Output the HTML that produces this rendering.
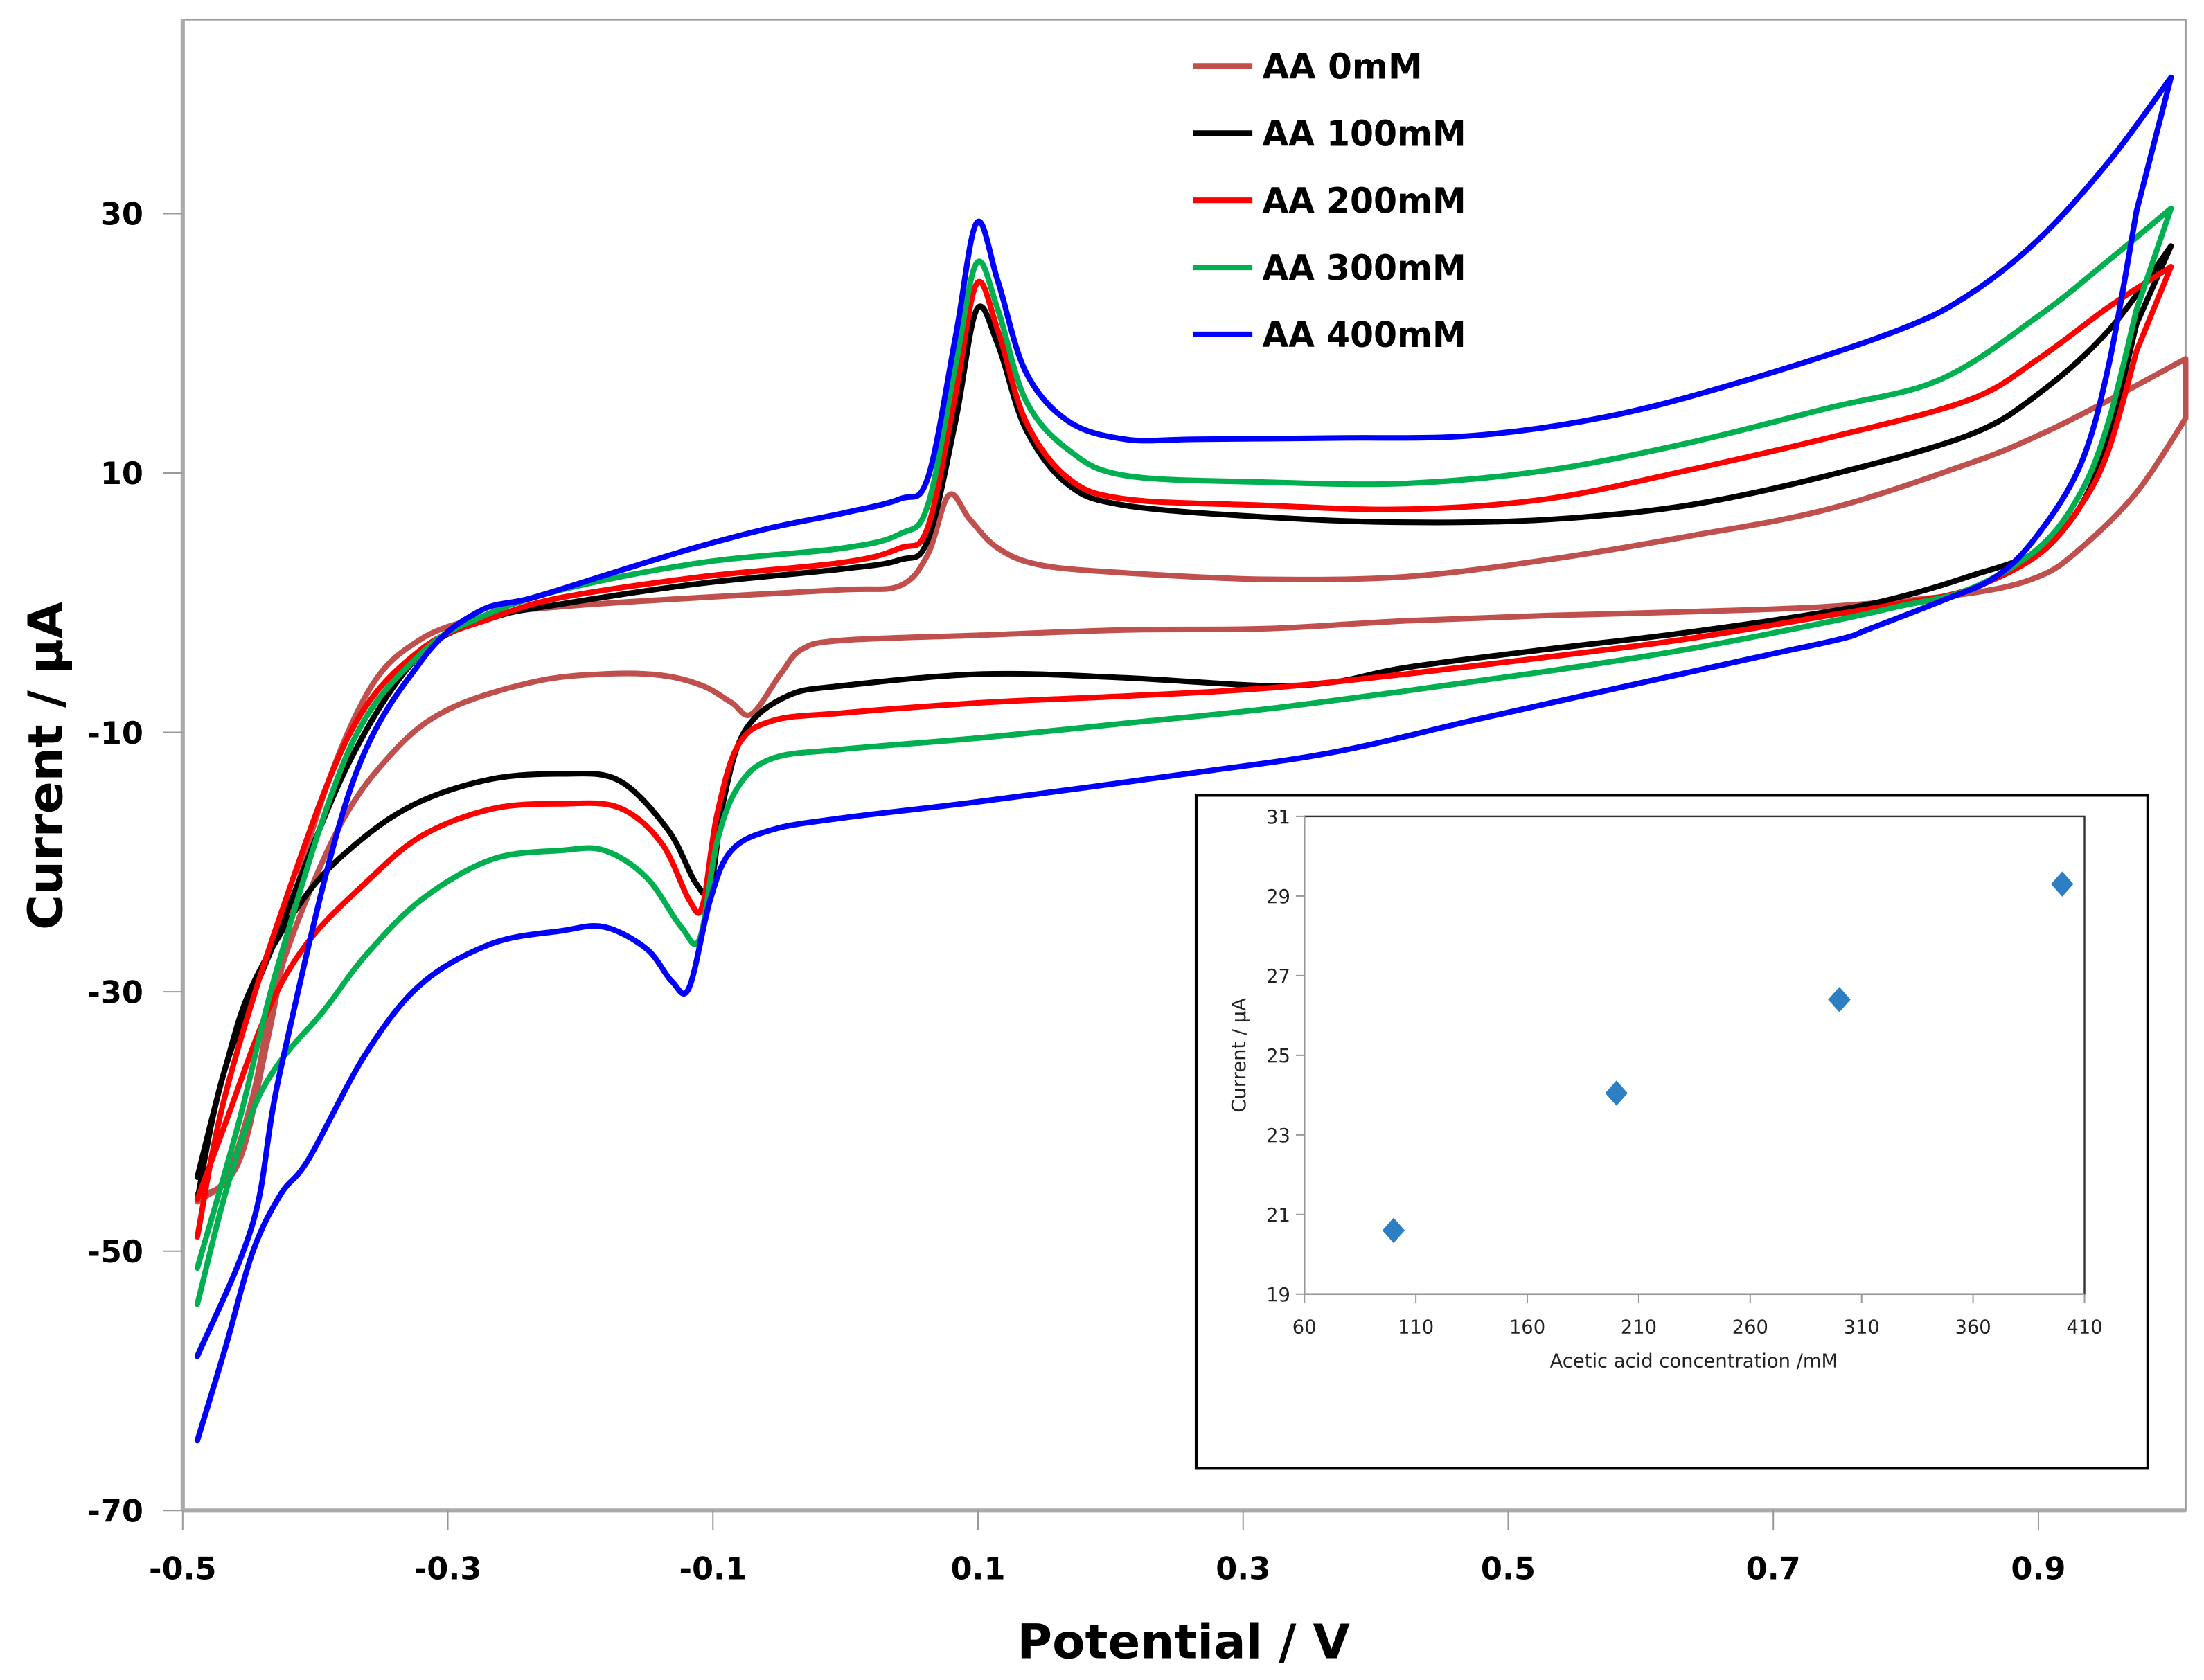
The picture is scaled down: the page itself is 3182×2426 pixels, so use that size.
<!DOCTYPE html>
<html><head><meta charset="utf-8"><style>
html,body{margin:0;padding:0;background:#fff;}
svg{display:block;}
text{font-family:"DejaVu Sans","Liberation Sans",sans-serif;}
</style></head><body>
<svg id="chart" width="3182" height="2426" viewBox="0 0 1568 1195.6" preserveAspectRatio="none" xmlns="http://www.w3.org/2000/svg">
<rect x="0" y="0" width="1568" height="1195.6" fill="#fff"/>
<g id="main"></g>
<g id="inset"></g>
</svg>
<script>
// ---- Main chart data ----
const xTicks = [-0.5,-0.3,-0.1,0.1,0.3,0.5,0.7,0.9];
const yTicks = [30,10,-10,-30,-50,-70];
const seriesNames = ["AA 0mM","AA 100mM","AA 200mM","AA 300mM","AA 400mM"];
const seriesColors = ["#C0504D","#000000","#FF0000","#00B050","#0000FF"];

const potential0 = [-0.489,-0.458,-0.436,-0.405,-0.362,-0.320,-0.267,-0.214,-0.108,-0.002,0.041,0.062,0.078,0.094,0.115,0.147,0.211,0.317,0.423,0.529,0.635,0.741,0.847,0.900,0.953,1.011,
 1.011,0.974,0.932,0.900,0.847,0.741,0.635,0.529,0.423,0.317,0.211,0.104,-0.002,-0.033,-0.049,-0.071,-0.086,-0.108,-0.139,-0.182,-0.235,-0.299,-0.341,-0.383,-0.426,-0.447,-0.468,-0.489];
const current0 = [-46.2,-43.2,-33.7,-18.5,-7.2,-2.8,-1.0,-0.3,0.4,1.0,1.3,3.7,8.3,6.4,4.2,2.9,2.3,1.8,2.0,3.3,5.1,7.2,10.7,12.9,15.6,18.8,
 14.2,8.5,4.2,2.0,0.7,-0.3,-0.7,-1.0,-1.4,-2.0,-2.1,-2.5,-2.9,-3.6,-5.5,-8.6,-7.7,-6.4,-5.6,-5.5,-6.1,-8.2,-11.5,-17.5,-28.3,-38.0,-44.5,-45.6];

const potential1 = [-0.489,-0.468,-0.426,-0.373,-0.320,-0.267,-0.214,-0.108,-0.002,0.041,0.062,0.083,0.099,0.115,0.136,0.168,0.211,0.317,0.423,0.529,0.635,0.741,0.847,0.900,0.953,1.000,
 0.974,0.953,0.932,0.900,0.847,0.794,0.741,0.635,0.529,0.423,0.370,0.317,0.211,0.104,-0.002,-0.044,-0.076,-0.092,-0.102,-0.113,-0.134,-0.171,-0.214,-0.267,-0.320,-0.362,-0.405,-0.447,-0.468,-0.489];
const current1 = [-46.0,-35.9,-25.0,-12.0,-3.9,-1.2,-0.1,1.5,2.6,3.3,4.8,14.0,22.6,19.9,13.4,9.1,7.5,6.6,6.2,6.4,7.5,9.8,12.9,16.1,21.0,27.5,
 21.5,12.9,7.5,4.0,2.0,0.4,-0.7,-2.3,-3.6,-5.0,-6.1,-6.4,-5.8,-5.5,-6.4,-7.2,-9.9,-15.3,-22.0,-21.6,-17.5,-13.7,-13.2,-13.6,-15.3,-18.0,-22.3,-29.4,-35.9,-44.3];

const potential2 = [-0.489,-0.468,-0.426,-0.373,-0.320,-0.267,-0.214,-0.108,-0.002,0.041,0.062,0.083,0.099,0.115,0.136,0.168,0.211,0.317,0.423,0.529,0.635,0.741,0.847,0.900,0.953,1.000,
 0.974,0.953,0.932,0.900,0.847,0.794,0.741,0.635,0.529,0.423,0.317,0.211,0.104,-0.002,-0.055,-0.081,-0.097,-0.108,-0.118,-0.139,-0.171,-0.214,-0.267,-0.320,-0.362,-0.405,-0.436,-0.468,-0.489];
const current2 = [-48.9,-38.0,-24.0,-9.9,-3.6,-1.2,0.4,2.0,3.1,4.2,5.8,16.1,24.6,21.0,14.0,9.6,8.0,7.5,7.2,8.0,10.2,12.7,15.6,18.8,22.8,25.9,
 19.4,11.8,7.5,3.7,1.0,-0.1,-1.0,-2.8,-4.2,-5.5,-6.6,-7.2,-7.7,-8.5,-9.1,-11.0,-16.4,-23.4,-22.9,-18.5,-15.8,-15.5,-15.9,-18.0,-21.6,-26.1,-31.5,-40.2,-46.0];

const potential3 = [-0.489,-0.458,-0.426,-0.373,-0.320,-0.277,-0.214,-0.108,-0.002,0.041,0.062,0.083,0.099,0.115,0.136,0.168,0.211,0.317,0.423,0.529,0.635,0.741,0.826,0.900,0.953,1.000,
 0.974,0.953,0.932,0.900,0.847,0.794,0.741,0.635,0.529,0.423,0.317,0.211,0.104,-0.002,-0.055,-0.081,-0.097,-0.110,-0.124,-0.150,-0.182,-0.214,-0.267,-0.320,-0.362,-0.394,-0.426,-0.447,-0.468,-0.489];
const current3 = [-51.3,-40.2,-27.2,-11.0,-3.9,-1.2,1.0,3.1,4.2,5.3,7.5,18.3,26.2,22.6,15.6,11.8,9.8,9.3,9.2,10.2,12.3,15.0,17.2,22.1,26.4,30.4,
 22.6,14.0,8.5,4.2,1.0,-0.3,-1.5,-3.6,-5.3,-6.8,-8.2,-9.3,-10.4,-11.3,-12.0,-14.2,-18.5,-25.9,-25.0,-21.2,-19.1,-19.1,-19.8,-22.9,-27.2,-31.5,-35.3,-39.1,-45.6,-54.1];

const potential4 = [-0.489,-0.447,-0.426,-0.373,-0.320,-0.277,-0.235,-0.160,-0.108,-0.055,-0.002,0.041,0.062,0.083,0.099,0.115,0.136,0.168,0.211,0.264,0.370,0.476,0.582,0.688,0.794,0.847,0.900,0.953,1.000,
 0.974,0.953,0.932,0.900,0.868,0.826,0.773,0.751,0.688,0.582,0.476,0.370,0.264,0.104,-0.002,-0.055,-0.086,-0.102,-0.118,-0.131,-0.150,-0.182,-0.214,-0.267,-0.320,-0.362,-0.405,-0.426,-0.447,-0.468,-0.489];
const current4 = [-58.1,-47.8,-35.9,-14.2,-4.5,-0.7,0.4,2.8,4.4,5.8,6.9,8.0,9.6,20.5,29.3,24.8,17.8,14.0,12.6,12.6,12.7,12.9,14.5,17.4,21.0,23.7,28.0,34.0,40.5,
 30.2,18.3,10.7,5.3,2.0,0.1,-2.0,-2.8,-4.2,-6.6,-9.0,-11.5,-13.1,-15.3,-16.6,-17.5,-19.1,-22.9,-29.7,-29.2,-26.7,-25.0,-25.3,-26.3,-29.4,-34.8,-42.9,-45.6,-50.0,-57.5,-64.6];

// ---- Inset data ----
const insetConc = [100,200,300,400];
const insetCurrent = [20.6,24.05,26.4,29.3];
const insetXTicks = [60,110,160,210,260,310,360,410];
const insetYTicks = [19,21,23,25,27,29,31];

const NS = "http://www.w3.org/2000/svg";
function mk(tag, attrs, parent){ const e=document.createElementNS(NS,tag); for(const k in attrs) e.setAttribute(k,attrs[k]); parent.appendChild(e); return e; }

const PX0=130, PX1=1555, PY0=14, PY1=1075;
function xs(v){ return 130 + (v+0.5)*(188.6/0.2); }
function ys(v){ return 152 - (v-30)*(184.6/20); }

const main=document.getElementById('main');
const frame=mk('rect',{x:PX0,y:PY0,width:PX1-PX0,height:PY1-PY0,fill:'none',stroke:'#999','stroke-width':1.2},main);


const yAxis=mk('line',{x1:PX0,y1:PY0,x2:PX0,y2:PY1,stroke:'#aaa','stroke-width':3},main);


const xAxis=mk('line',{x1:PX0,y1:PY1,x2:PX1,y2:PY1,stroke:'#aaa','stroke-width':3},main);



yTicks.forEach(t=>{
  const l=mk('line',{x1:PX0-14,y1:ys(t),x2:PX0,y2:ys(t),stroke:'#999','stroke-width':1},main);
  
  
  const tx=mk('text',{x:102,y:ys(t)+8,'text-anchor':'end','font-size':22,'font-weight':'bold',fill:'#000'},main);
  tx.textContent=t;
  
  
});
xTicks.forEach(t=>{
  const l=mk('line',{x1:xs(t),y1:PY1,x2:xs(t),y2:PY1+14,stroke:'#999','stroke-width':1},main);
  
  
  const tx=mk('text',{x:xs(t),y:1124,'text-anchor':'middle','font-size':22,'font-weight':'bold',fill:'#000'},main);
  tx.textContent=t;
  
  
});
const xt=mk('text',{x:842,y:1180,'text-anchor':'middle','font-size':34,'font-weight':'bold',fill:'#000'},main);
xt.textContent='Potential / V';


const yt=mk('text',{x:0,y:0,'text-anchor':'middle','font-size':34,'font-weight':'bold',fill:'#000',transform:'translate(44,545) rotate(-90)'},main);
yt.textContent='Current / µA';



function segPath(p, first){
  let d=(first?'M':'L')+p[0][0].toFixed(1)+','+p[0][1].toFixed(1);
  for(let i=0;i<p.length-1;i++){
    const p0=p[Math.max(0,i-1)],p1=p[i],p2=p[i+1],p3=p[Math.min(p.length-1,i+2)];
    const c1=[p1[0]+(p2[0]-p0[0])/6,p1[1]+(p2[1]-p0[1])/6];
    const c2=[p2[0]-(p3[0]-p1[0])/6,p2[1]-(p3[1]-p1[1])/6];
    d+='C'+c1[0].toFixed(1)+','+c1[1].toFixed(1)+' '+c2[0].toFixed(1)+','+c2[1].toFixed(1)+' '+p2[0].toFixed(1)+','+p2[1].toFixed(1);
  }
  return d;
}
function smoothPath(px,py){
  const p=px.map((x,i)=>[xs(x),ys(py[i])]);
  // split at the turning point (maximum potential)
  let k=0; for(let i=1;i<px.length;i++) if(px[i]>px[k]) k=i;
  const a=p.slice(0,k+1);
  const b=p.slice(k+1);
  let d=segPath(a,true);
  if(b.length) d+=segPath(b,false);
  return d;
}
const allP=[potential0,potential1,potential2,potential3,potential4];
const allC=[current0,current1,current2,current3,current4];
const slugs=['aa-0mm','aa-100mm','aa-200mm','aa-300mm','aa-400mm'];
for(let s=0;s<5;s++){
  const path=mk('path',{d:smoothPath(allP[s],allC[s]),fill:'none',stroke:seriesColors[s],'stroke-width':4,'stroke-linejoin':'round','stroke-linecap':'round'},main);
  
  
}
seriesNames.forEach((n,i)=>{
  const y=47+i*47.75;
  const g=mk('g',{},main);
  
  
  mk('line',{x1:849,y1:y,x2:891,y2:y,stroke:seriesColors[i],'stroke-width':4},g);
  const t=mk('text',{x:898,y:y+9,'font-size':25,'font-weight':'bold',fill:'#000',textLength:145,lengthAdjust:'spacingAndGlyphs'},g);
  if(i===0) t.setAttribute('textLength',114);
  t.textContent=n;
});

// ---- inset ----
const inset=document.getElementById('inset');
const box=mk('rect',{x:851,y:566,width:677,height:479,fill:'#fff',stroke:'#000','stroke-width':2},inset);


function ixs(v){ return 928 + (v-60)*(555/350); }
function iys(v){ return 921 - (v-19)*(340/12); }
const ip=mk('rect',{x:928,y:581,width:555,height:340,fill:'none',stroke:'#333','stroke-width':1.2},inset);


mk('line',{x1:928,y1:581,x2:928,y2:921,stroke:'#999','stroke-width':1.2},inset);
mk('line',{x1:928,y1:921,x2:1483,y2:921,stroke:'#999','stroke-width':1.2},inset);
insetYTicks.forEach(t=>{
  const l=mk('line',{x1:922,y1:iys(t),x2:928,y2:iys(t),stroke:'#999','stroke-width':1},inset);
  
  
  const tx=mk('text',{x:918,y:iys(t)+5,'text-anchor':'end','font-size':13.5,fill:'#222'},inset);
  tx.textContent=t;
  
  
});
insetXTicks.forEach(t=>{
  const l=mk('line',{x1:ixs(t),y1:921,x2:ixs(t),y2:927,stroke:'#999','stroke-width':1},inset);
  
  
  const tx=mk('text',{x:ixs(t),y:949,'text-anchor':'middle','font-size':13.5,fill:'#222'},inset);
  tx.textContent=t;
  
  
});
const ixt=mk('text',{x:1205,y:973,'text-anchor':'middle','font-size':13.5,fill:'#222'},inset);
ixt.textContent='Acetic acid concentration /mM';


const iyt=mk('text',{x:0,y:0,'text-anchor':'middle','font-size':13.5,fill:'#222',transform:'translate(886,751) rotate(-90)'},inset);
iyt.textContent='Current / µA';


insetConc.forEach((c,i)=>{
  const x=ixs(c), y=iys(insetCurrent[i]);
  const m=mk('polygon',{points:`${x},${y-9} ${x+8},${y} ${x},${y+9} ${x-8},${y}`,fill:'#2E7EC4'},inset);
  
  
});
</script>
</body></html>
